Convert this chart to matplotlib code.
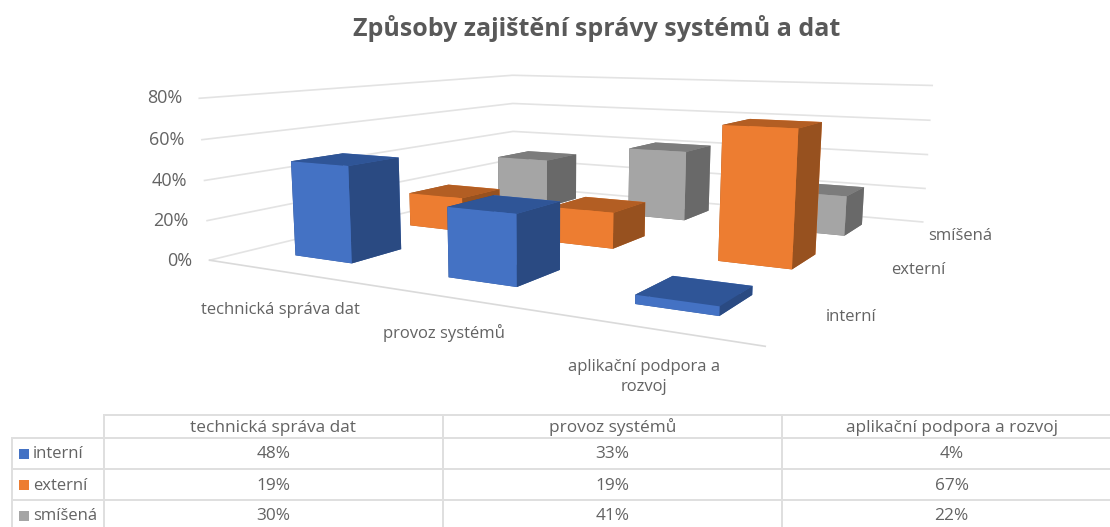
import numpy as np
import matplotlib
matplotlib.use("Agg")
import matplotlib.pyplot as plt
from matplotlib.patches import Rectangle

plt.rcParams['font.family'] = ['Open Sans', 'DejaVu Sans']

categories = ["technická správa dat", "provoz systémů", "aplikační podpora a rozvoj"]
series = ["interní", "externí", "smíšená"]
interni = [48, 33, 4]
externi = [19, 19, 67]
smisena = [30, 41, 22]
values = [interni, externi, smisena]
ticks = [0, 20, 40, 60, 80]

# front, side, top colours per series
front = ["#4472C4", "#ED7D31", "#A5A5A5"]
side = ["#2A4A82", "#97511F", "#696969"]
top = ["#2F5597", "#B35E23", "#7C7C7C"]
TEXT = "#636363"
GRID = "#E3E3E3"
W = 1110
H = 527
BAR_W = 0.39
BAR_D = 0.41
BAR_BACK = 0.02

# where the corners of the chart box sit in the picture: (x, y, z) -> (px, py)
nx, ny, zmax = len(categories), len(series), ticks[-1]
box_3d = [(0, 0, 0), (nx, 0, 0), (nx, ny, 0), (0, ny, 0),
          (0, 0, zmax), (0, ny, zmax), (nx, ny, zmax)]
box_px = [(210, 260), (765, 347), (923, 221), (513, 187),
          (199, 98), (513, 75), (932, 86)]


def fit_camera(pts3d, pts2d):
    rows = []
    for (x, y, z), (u, v) in zip(pts3d, pts2d):
        v = H - v
        rows.append([x, y, z, 1, 0, 0, 0, 0, -u * x, -u * y, -u * z, -u])
        rows.append([0, 0, 0, 0, x, y, z, 1, -v * x, -v * y, -v * z, -v])
    _, _, vt = np.linalg.svd(np.array(rows, dtype=float))
    P = vt[-1].reshape(3, 4)
    return P / P[2, 3]


camera = fit_camera(box_3d, box_px)

fig = plt.figure(figsize=(W / 100, H / 100), dpi=100)
ax = fig.add_axes([0, 0, 1, 1], projection='3d', computed_zorder=False)
ax.set_axis_off()


def get_proj():
    # picture pixels -> 2d coordinates of the 3d axes
    to_data = ax.transData.inverted().get_matrix()
    P = to_data @ camera
    return np.array([P[0], P[1], [0, 0, 0, -1.0], P[2]])


ax.get_proj = get_proj

# walls and floor
for t in ticks:
    ax.plot([0, 0, nx], [0, ny, ny], [t, t, t], color=GRID, lw=1.2, zorder=1, clip_on=False)
ax.plot([0, nx], [0, 0], [0, 0], color="#DADADA", lw=1.2, zorder=1, clip_on=False)

# bars, back row first so the front ones cover them
order = 2
for j in reversed(range(ny)):
    for i in range(nx):
        colors = [top[j], top[j], front[j], front[j], side[j], side[j]]
        bars = ax.bar3d(i + (1 - BAR_W) / 2, j + (1 - BAR_D) / 2 + BAR_BACK, 0, BAR_W, BAR_D, values[j][i],
                        color=colors, shade=False, zorder=order)
        bars.set_clip_on(False)
        order += 1

# texts and the data table, in picture pixels
over = fig.add_axes([0, 0, 1, 1])
over.set_xlim(0, W)
over.set_ylim(H, 0)
over.axis('off')
over.patch.set_alpha(0)

over.text(597, 28, "Způsoby zajištění správy systémů a dat", ha='center', va='center',
          fontsize=18, fontweight='bold', color="#595959")

tick_px = [(192, 261), (189, 221), (187, 181), (184, 140), (182, 98)]
for t, (px, py) in zip(ticks, tick_px):
    over.text(px, py, f"{t}%", ha='right', va='center', fontsize=13, color=TEXT)

cat_px = [(280, 310.5), (444, 333), (644, 377)]
cat_text = [categories[0], categories[1], "aplikační podpora a\nrozvoj"]
for s, (px, py) in zip(cat_text, cat_px):
    over.text(px, py, s, ha='center', va='center', fontsize=12, color=TEXT, linespacing=1.3)

ser_px = [(851, 317), (918, 270), (960, 236)]
for s, (px, py) in zip(series, ser_px):
    over.text(px, py, s, ha='center', va='center', fontsize=12, color=TEXT)

# the table runs past the right and bottom edge of the picture
col_x = [104, 443, 782, 1121]
row_y = [415, 438, 469, 500, 531]
left_x = 12
line = dict(color="#DFDFDF", lw=1.4, clip_on=True)
over.plot([col_x[0], col_x[-1]], [row_y[0], row_y[0]], **line)
for y in row_y[1:]:
    over.plot([left_x, col_x[-1]], [y, y], **line)
over.plot([left_x, left_x], [row_y[1], row_y[-1]], **line)
for x in col_x:
    over.plot([x, x], [row_y[0], row_y[-1]], **line)

for i, c in enumerate(categories):
    cx = (col_x[i] + col_x[i + 1]) / 2
    over.text(cx, (row_y[0] + row_y[1]) / 2 + 1, c, ha='center', va='center', fontsize=12.4, color=TEXT)
    for j in range(ny):
        over.text(cx, (row_y[j + 1] + row_y[j + 2]) / 2 + 1, f"{values[j][i]}%", ha='center', va='center',
                  fontsize=12.4, color=TEXT)

for j, s in enumerate(series):
    my = (row_y[j + 1] + row_y[j + 2]) / 2
    over.add_patch(Rectangle((19, my - 5), 10, 10, color=front[j], lw=0))
    over.text(33, my + 1, s, ha='left', va='center', fontsize=12, color=TEXT)

fig.savefig("out.png", dpi=100)
